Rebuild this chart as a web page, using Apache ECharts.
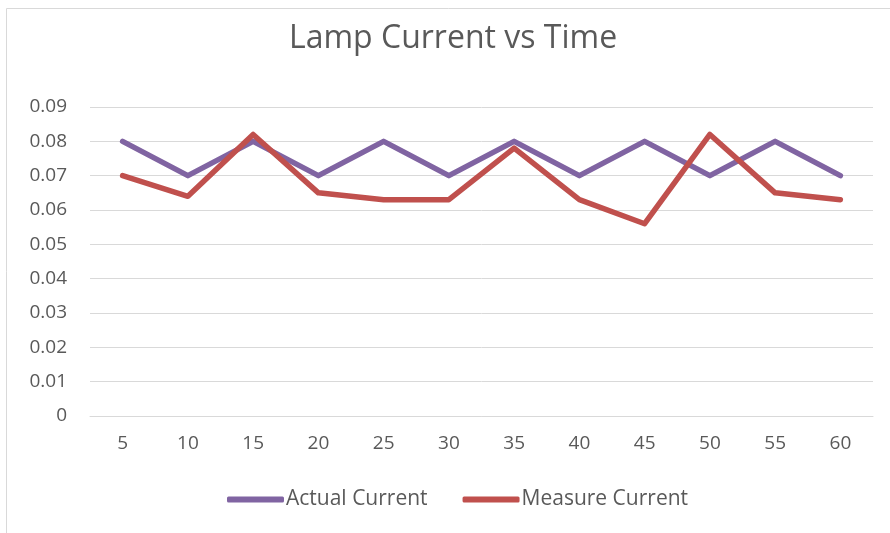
<!DOCTYPE html>
<html>
<head>
<meta charset="utf-8">
<script src="https://cdn.jsdelivr.net/npm/echarts@6/dist/echarts.min.js"></script>
<style>
  html, body { margin: 0; padding: 0; background: #fff; }
  #chart { width: 890px; height: 533px; }
</style>
</head>
<body>
<div id="chart"></div>
<script>
// time in x, current on y
var times = ['5', '10', '15', '20', '25', '30', '35', '40', '45', '50', '55', '60'];
var actualCurrent = [0.08, 0.07, 0.08, 0.07, 0.08, 0.07, 0.08, 0.07, 0.08, 0.07, 0.08, 0.07];
var measureCurrent = [0.07, 0.064, 0.082, 0.065, 0.063, 0.063, 0.078, 0.063, 0.056, 0.082, 0.065, 0.063];

var font = '"Open Sans", Lato, sans-serif';
var chart = echarts.init(document.getElementById('chart'));

chart.setOption({
  animation: false,
  textStyle: { fontFamily: font },
  graphic: [{
    type: 'rect',
    shape: { x: 6.5, y: 8.5, width: 890, height: 540 },
    style: { fill: 'none', stroke: '#d9d9d9', lineWidth: 1 },
    silent: true
  }],
  title: {
    text: 'Lamp Current vs Time',
    left: 284,
    top: 18,
    textStyle: { fontFamily: font, fontSize: 32, fontWeight: 'normal', color: '#595959' }
  },
  grid: { left: 90, right: 17, top: 107, bottom: 117 },
  legend: {
    bottom: 18,
    left: 222,
    icon: 'roundRect',
    itemWidth: 57,
    itemHeight: 6,
    itemGap: 35,
    textStyle: { fontFamily: font, fontSize: 21, color: '#595959', padding: [0, 0, 0, -3] },
    data: ['Actual Current', 'Measure Current']
  },
  xAxis: {
    type: 'category',
    data: times,
    boundaryGap: true,
    axisLine: { lineStyle: { color: '#d9d9d9', width: 1 } },
    axisTick: { show: false },
    axisLabel: { fontFamily: font, fontSize: 19, color: '#595959', margin: 18 }
  },
  yAxis: {
    type: 'value',
    min: 0,
    max: 0.09,
    interval: 0.01,
    axisLine: { show: false },
    axisTick: { show: false },
    splitLine: { lineStyle: { color: '#d9d9d9', width: 1 } },
    axisLabel: {
      fontFamily: font, fontSize: 19, color: '#595959', margin: 23,
      formatter: function (v) { return v === 0 ? '0' : v.toFixed(2); }
    }
  },
  series: [
    {
      name: 'Actual Current',
      type: 'line',
      data: actualCurrent,
      symbol: 'none',
      lineStyle: { color: '#8064A2', width: 5.5, cap: 'round', join: 'round' },
      itemStyle: { color: '#8064A2' }
    },
    {
      name: 'Measure Current',
      type: 'line',
      data: measureCurrent,
      symbol: 'none',
      lineStyle: { color: '#C0504D', width: 5.5, cap: 'round', join: 'round' },
      itemStyle: { color: '#C0504D' }
    }
  ]
});
</script>
</body>
</html>
